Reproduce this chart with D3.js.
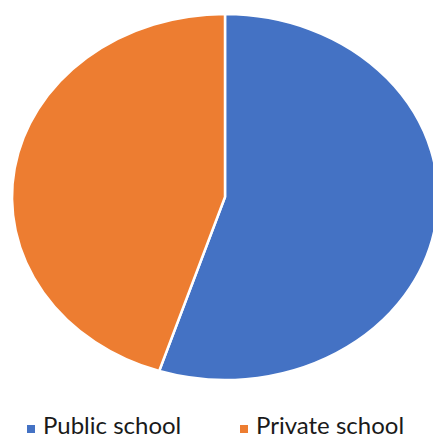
<!DOCTYPE html>
<html>
<head>
<meta charset="utf-8">
<script src="https://cdn.jsdelivr.net/npm/d3@7"></script>
<style>
  body { margin: 0; background: #fff; }
  svg { display: block; }
</style>
</head>
<body>
<div id="chart"></div>
<script>
var categories = ["Public school", "Private school"];
var values = [55, 45];
var colors = ["#4472C4", "#ED7D31"];

var width = 433, height = 439;
var cx = 225, cy = 197, rx = 213, ry = 183;

var svg = d3.select("#chart")
    .append("svg")
    .attr("width", width)
    .attr("height", height);

var data = categories.map(function(c, i){ return { name: c, value: values[i] }; });

var pie = d3.pie()
    .sort(null)
    .value(function(d){ return d.value; });

var arc = d3.arc()
    .innerRadius(0)
    .outerRadius(1);

var color = d3.scaleOrdinal().domain(categories).range(colors);

// Pie drawn on a unit circle, stretched into the ellipse
var g = svg.append("g")
    .attr("transform", "translate(" + cx + "," + cy + ") scale(" + rx + "," + ry + ")");

g.selectAll("path")
    .data(pie(data))
    .enter().append("path")
    .attr("d", arc)
    .attr("fill", function(d){ return color(d.data.name); })
    .attr("stroke", "#fff")
    .attr("stroke-width", 2.5)
    .attr("vector-effect", "non-scaling-stroke");

// Legend
var legendX = [27, 240];
var legend = svg.append("g").attr("class", "legend");
var items = legend.selectAll("g")
    .data(categories)
    .enter().append("g")
    .attr("transform", function(d, i){ return "translate(" + legendX[i] + ",0)"; });

items.append("rect")
    .attr("x", 0)
    .attr("y", 425)
    .attr("width", 8)
    .attr("height", 8)
    .attr("fill", function(d){ return color(d); });

items.append("text")
    .attr("x", 16)
    .attr("y", 434)
    .attr("font-family", "Lato, 'Open Sans', sans-serif")
    .attr("font-size", "24px")
    .attr("fill", "#1a1a1a")
    .text(function(d){ return d; });
</script>
</body>
</html>
